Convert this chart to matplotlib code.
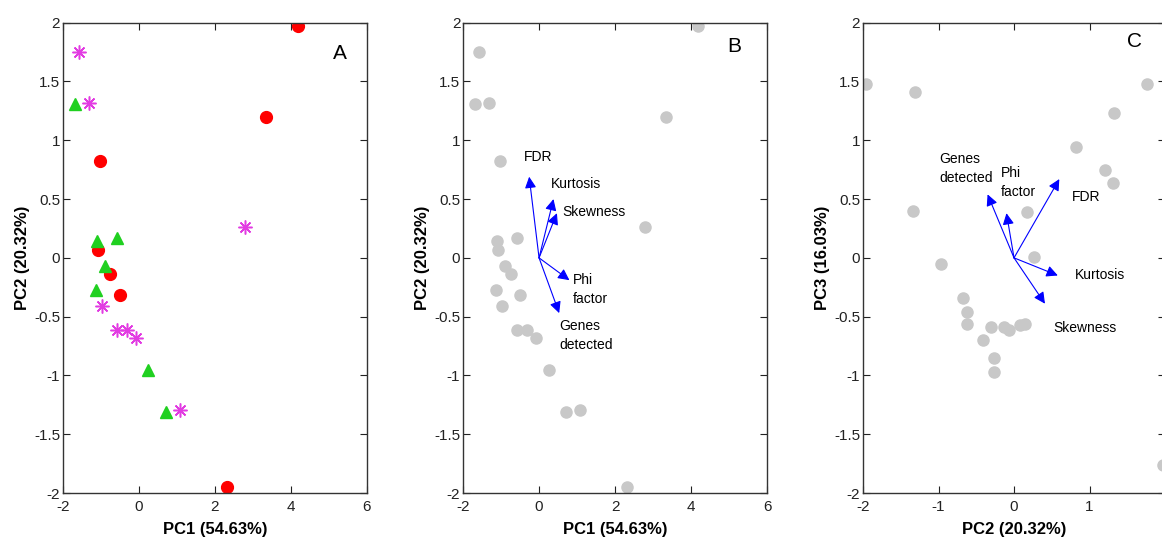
import numpy as np
import matplotlib.pyplot as plt

plt.rcParams['font.family'] = ['Liberation Sans', 'DejaVu Sans']

# panel A: scores on PC1/PC2 by group
red_pc1 = [4.18, 3.33, -1.03, -1.07, -0.75, -0.50, 2.32]
red_pc2 = [1.97, 1.20, 0.82, 0.07, -0.14, -0.32, -1.95]
green_pc1 = [-1.68, -1.10, -0.59, -0.89, -1.13, 0.25, 0.70]
green_pc2 = [1.31, 0.14, 0.17, -0.07, -0.27, -0.95, -1.31]
mag_pc1 = [-1.57, -1.31, 2.79, -0.97, -0.57, -0.32, -0.09, 1.09]
mag_pc2 = [1.75, 1.32, 0.26, -0.41, -0.61, -0.61, -0.68, -1.29]

# panel C: scores on PC2/PC3
c_pc2 = [-1.96, -1.31, -1.34, -0.97, 1.76, 1.33, 0.82, 1.21, 1.31, 0.17, 0.27,
         -0.67, -0.62, -0.62, -0.31, -0.41, -0.13, -0.06, 0.08, 0.15, -0.26, -0.27, 1.97]
c_pc3 = [1.48, 1.41, 0.40, -0.05, 1.48, 1.23, 0.94, 0.75, 0.64, 0.39, 0.01,
         -0.34, -0.46, -0.56, -0.59, -0.70, -0.59, -0.61, -0.57, -0.56, -0.85, -0.97, -1.76]

# loadings
var_names = ['FDR', 'Kurtosis', 'Skewness', 'Phi\nfactor', 'Genes\ndetected']
load_b_x = [-0.26, 0.38, 0.47, 0.80, 0.53]
load_b_y = [0.69, 0.50, 0.38, -0.19, -0.47]
lab_b_x = [-0.40, 0.30, 0.62, 0.90, 0.53]
lab_b_y = [0.86, 0.63, 0.39, -0.27, -0.66]
load_c_x = [0.60, 0.58, 0.41, -0.10, -0.35]
load_c_y = [0.67, -0.15, -0.39, 0.38, 0.54]
lab_c_x = [0.77, 0.80, 0.52, -0.18, -0.99]
lab_c_y = [0.52, -0.15, -0.60, 0.64, 0.76]

gray = '#c8c8c8'

fig = plt.figure(figsize=(11.62, 5.42), dpi=100)
axA = fig.add_axes([0.0542, 0.0904, 0.2616, 0.8677])
axB = fig.add_axes([0.3985, 0.0904, 0.2616, 0.8677])
axC = fig.add_axes([0.7427, 0.0904, 0.2599, 0.8677])


def style(ax, xlim, xticks, xticklabels, xlabel, ylabel):
    ax.set_xlim(xlim)
    ax.set_ylim(-2, 2)
    ax.set_xticks(xticks)
    ax.set_yticks(np.arange(-2, 2.01, 0.5))
    ax.set_yticklabels(['-2', '-1.5', '-1', '-0.5', '0', '0.5', '1', '1.5', '2'])
    ax.set_xticklabels(xticklabels)
    ax.tick_params(direction='in', top=True, right=True, length=5, width=0.8,
                   labelsize=11, colors='#222222', pad=2)
    ax.tick_params(axis='x', pad=5)
    for s in ax.spines.values():
        s.set_color('#333333')
        s.set_linewidth(1.0)
    ax.set_xlabel(xlabel, fontsize=12, fontweight='bold', labelpad=6)
    ax.set_ylabel(ylabel, fontsize=12, fontweight='bold', labelpad=3)


# A
axA.plot(red_pc1, red_pc2, 'o', color='#ff0000', markersize=8.5, linestyle='none')
axA.plot(green_pc1, green_pc2, '^', color='#20d020', markersize=8, linestyle='none')
axA.plot(mag_pc1, mag_pc2, marker=(8, 2, 0), color='#e23ce2', markersize=10,
         markeredgewidth=1.1, linestyle='none')
style(axA, (-2, 6), [-2, 0, 2, 4, 6], ['-2', '0', '2', '4', '6'],
      'PC1 (54.63%)', 'PC2 (20.32%)')
axA.text(5.3, 1.74, 'A', fontsize=15, ha='center', va='center')

# B
all_pc1 = red_pc1 + green_pc1 + mag_pc1
all_pc2 = red_pc2 + green_pc2 + mag_pc2
axB.plot(all_pc1, all_pc2, 'o', color=gray, markersize=8, linestyle='none')
for i in range(len(var_names)):
    axB.annotate('', xy=(load_b_x[i], load_b_y[i]), xytext=(0, 0),
                 arrowprops=dict(arrowstyle='-|>', color='#0000ff', lw=0.8,
                                 mutation_scale=17, shrinkA=0, shrinkB=0))
    axB.text(lab_b_x[i], lab_b_y[i], var_names[i], fontsize=10, ha='left',
             va='center', linespacing=1.5)
style(axB, (-2, 6), [-2, 0, 2, 4, 6], ['-2', '0', '2', '4', '6'],
      'PC1 (54.63%)', 'PC2 (20.32%)')
axB.text(5.15, 1.8, 'B', fontsize=15, ha='center', va='center')

# C
axC.plot(c_pc2, c_pc3, 'o', color=gray, markersize=8, linestyle='none')
for i in range(len(var_names)):
    axC.annotate('', xy=(load_c_x[i], load_c_y[i]), xytext=(0, 0),
                 arrowprops=dict(arrowstyle='-|>', color='#0000ff', lw=0.8,
                                 mutation_scale=17, shrinkA=0, shrinkB=0))
    axC.text(lab_c_x[i], lab_c_y[i], var_names[i], fontsize=10, ha='left',
             va='center', linespacing=1.5)
style(axC, (-2, 2), [-2, -1, 0, 1, 2], ['-2', '-1', '0', '1', ''],
      'PC2 (20.32%)', 'PC3 (16.03%)')
axC.text(1.6, 1.84, 'C', fontsize=15, ha='center', va='center')

fig.savefig('out.png', dpi=100)
